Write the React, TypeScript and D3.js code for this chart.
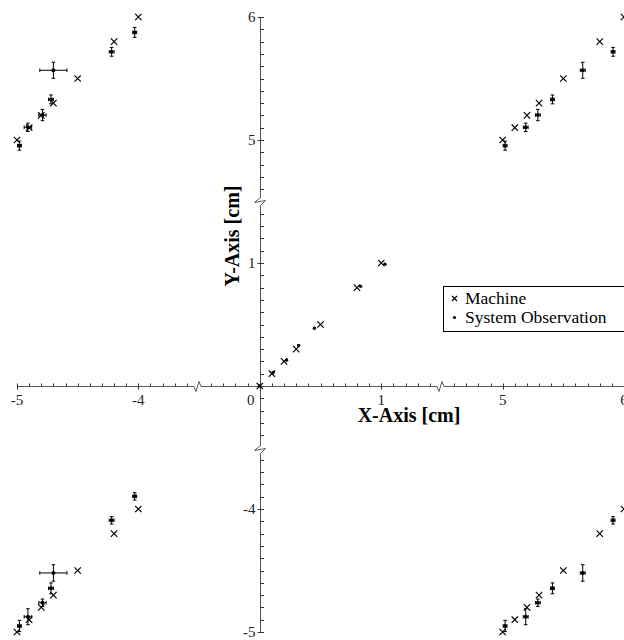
import React from "react";
import * as d3 from "d3";

const W = 624;
const H = 640;

// broken axis segments (domain pieces) and the pixels they occupy
const xPieces = [-5, -3.5, -0.5, 1.5, 4.5, 6];
const xPixels = [17, 199, 199, 442, 442, 624];
const yPieces = [-5, -3.5, -0.5, 1.5, 4.5, 6];
const yPixels = [632, 447.5, 447.5, 201.5, 201.5, 17];

// tick labels
const xTickValues = [-5, -4, 0, 1, 5, 6];
const xTickLabels = ["-5", "-4", "0", "1", "5", "6"];
const yTickValues = [-5, -4, 1, 5, 6];
const yTickLabels = ["-5", "-4", "1", "5", "6"];

// Machine series, per panel
const machineLeftX = [-5, -4.9, -4.8, -4.7, -4.5, -4.2, -4];
const machineMidX = [0, 0.1, 0.2, 0.3, 0.5, 0.8, 1];
const machineRightX = [5, 5.1, 5.2, 5.3, 5.5, 5.8, 6];
const machineTopY = [5, 5.1, 5.2, 5.3, 5.5, 5.8, 6];
const machineMidY = [0, 0.1, 0.2, 0.3, 0.5, 0.8, 1];
const machineBottomY = [-5, -4.9, -4.8, -4.7, -4.5, -4.2, -4];

// System Observation series, per panel (with errors)
const obsLeftX = [-4.98, -4.91, -4.79, -4.72, -4.7, -4.22, -4.03];
const obsLeftErrX = [0.016, 0.031, 0.03, 0.02, 0.112, 0.02, 0.016];
const obsRightX = [5.02, 5.19, 5.29, 5.41, 5.66, 5.91, 6.1];
const obsRightErrX = [0.016, 0.02, 0.02, 0.016, 0.02, 0.016, 0.016];
const obsTopY = [4.954, 5.103, 5.203, 5.33, 5.567, 5.717, 5.875];
const obsTopErrY = [0.037, 0.034, 0.046, 0.036, 0.065, 0.036, 0.04];
const obsBottomY = [-4.951, -4.876, -4.762, -4.645, -4.52, -4.092, -3.897];
const obsBottomErrY = [0.046, 0.065, 0.03, 0.044, 0.067, 0.03, 0.03];
const obsMidX = [0, 0.11, 0.22, 0.32, 0.45, 0.83, 1.03];
const obsMidY = [0, 0.11, 0.21, 0.33, 0.47, 0.81, 0.99];

const FONT = "Liberation Serif, Times New Roman, serif";

const x = d3.scaleLinear().domain(xPieces).range(xPixels);
const y = d3.scaleLinear().domain(yPieces).range(yPixels);

// minor ticks every 0.1 inside each segment, skipping the break ends
function minorTicks(pieces: number[], breaks: number[]) {
  const out: number[] = [];
  for (let s = 0; s < pieces.length; s += 2) {
    const a = Math.round(pieces[s] * 10);
    const b = Math.round(pieces[s + 1] * 10);
    for (let k = a; k <= b; k++) {
      const v = k / 10;
      if (breaks.some((br) => Math.abs(br - v) < 1e-9)) continue;
      out.push(v);
    }
  }
  return out;
}

const xBreaks = [-3.5, -0.5, 1.5, 4.5];
const yBreaks = [-3.5, -0.5, 1.5, 4.5];

const App = () => {
  const x0 = Math.round(x(0)) + 0.5;
  const y0 = Math.round(y(0)) + 0.5;

  const xb1 = x(-3.5);
  const xb2 = x(1.5);
  const xAxisPath =
    `M${x(-5)},${y0}H${xb1 - 5}` +
    `L${xb1 - 3},${y0 + 5}L${xb1},${y0 - 5}L${xb1 + 2},${y0}` +
    `H${xb2 - 5}` +
    `L${xb2 - 3},${y0 + 5}L${xb2},${y0 - 5}L${xb2 + 2},${y0}` +
    `H${x(6)}`;

  const yb1 = y(4.5);
  const yb2 = y(-0.5) + 2;
  const yAxisPath =
    `M${x0},${y(6)}V${yb1 - 4}` +
    `L${x0 - 6},${yb1 + 1}L${x0 + 5},${yb1 - 1}L${x0},${yb1 + 4}` +
    `V${yb2 - 4}` +
    `L${x0 - 6},${yb2 + 1}L${x0 + 5},${yb2 - 1}L${x0},${yb2 + 4}` +
    `V${y(-5)}`;

  const xMinor = minorTicks(xPieces, xBreaks);
  const yMinor = minorTicks(yPieces, yBreaks);

  const machinePanels = [
    [machineLeftX, machineTopY],
    [machineRightX, machineTopY],
    [machineMidX, machineMidY],
    [machineLeftX, machineBottomY],
    [machineRightX, machineBottomY],
  ];
  const machinePts: [number, number][] = [];
  machinePanels.forEach(([xs, ys]) =>
    xs.forEach((v, i) => machinePts.push([v, ys[i]]))
  );

  const obsPanels = [
    [obsLeftX, obsLeftErrX, obsTopY, obsTopErrY],
    [obsRightX, obsRightErrX, obsTopY, obsTopErrY],
    [obsLeftX, obsLeftErrX, obsBottomY, obsBottomErrY],
    [obsRightX, obsRightErrX, obsBottomY, obsBottomErrY],
  ];
  const obsPts: { vx: number; vy: number; ex: number; ey: number }[] = [];
  obsPanels.forEach(([xs, exs, ys, eys]) =>
    xs.forEach((v, i) => obsPts.push({ vx: v, vy: ys[i], ex: exs[i], ey: eys[i] }))
  );
  obsMidX.forEach((v, i) => obsPts.push({ vx: v, vy: obsMidY[i], ex: 0, ey: 0 }));

  const cross = (px: number, py: number, s: number) =>
    `M${px - s},${py - s}L${px + s},${py + s}M${px - s},${py + s}L${px + s},${py - s}`;

  const cap = 1.8;
  const txt = { fontFamily: FONT };

  return (
    <svg
      width={W}
      height={H}
      style={{ position: "absolute", left: 0, top: 0, overflow: "hidden", background: "#fff" }}
    >
      {/* axes */}
      <path d={xAxisPath} fill="none" stroke="#555" strokeWidth={1} />
      <path d={yAxisPath} fill="none" stroke="#555" strokeWidth={1} />

      {xMinor.map((v) => {
        const major = Number.isInteger(v);
        const px = Math.round(x(v)) + 0.5;
        return (
          <line key={"xt" + v} x1={px} x2={px} y1={y0 - 3} y2={major ? y0 + 3 : y0} stroke="#333" />
        );
      })}
      {yMinor.map((v) => {
        const major = Number.isInteger(v);
        const py = Math.round(y(v)) + 0.5;
        return (
          <line key={"yt" + v} x1={major ? x0 - 3 : x0} x2={x0 + 3.5} y1={py} y2={py} stroke="#333" />
        );
      })}

      {xTickValues.map((v, i) => (
        <text
          key={"xl" + v}
          style={txt}
          x={v === 0 ? x0 - 6 : x(v)}
          y={y0 + 18.5}
          textAnchor={v === 0 ? "end" : "middle"}
          fontSize={15}
          fill="#222"
        >
          {xTickLabels[i]}
        </text>
      ))}
      {yTickValues.map((v, i) => (
        <text key={"yl" + v} style={txt} x={x0 - 5} y={y(v) + 5} textAnchor="end" fontSize={15} fill="#222">
          {yTickLabels[i]}
        </text>
      ))}

      <text style={txt} x={409} y={422} textAnchor="middle" fontSize={20} fontWeight="bold" fill="#000">
        X-Axis [cm]
      </text>
      <text
        style={txt}
        transform={`translate(239,236) rotate(-90)`}
        textAnchor="middle"
        fontSize={20}
        fontWeight="bold"
        fill="#000"
      >
        Y-Axis [cm]
      </text>

      {/* System Observation with error bars */}
      {obsPts.map((d, i) => {
        const px = x(d.vx);
        const py = y(d.vy);
        const xl = x(d.vx - d.ex);
        const xr = x(d.vx + d.ex);
        const yt = y(d.vy + d.ey);
        const yb = y(d.vy - d.ey);
        return (
          <g key={"o" + i}>
            {d.ey > 0 && (
              <path
                d={`M${px},${yt}V${yb}M${px - cap},${yt}H${px + cap}M${px - cap},${yb}H${px + cap}`}
                stroke="#000"
                strokeWidth={1}
                fill="none"
              />
            )}
            {d.ex > 0 && (
              <path
                d={`M${xl},${py}H${xr}M${xl},${py - cap}V${py + cap}M${xr},${py - cap}V${py + cap}`}
                stroke="#000"
                strokeWidth={1}
                fill="none"
              />
            )}
            <circle cx={px} cy={py} r={d.ex > 0 ? 2 : 1.7} fill="#000" />
          </g>
        );
      })}

      {/* Machine */}
      {machinePts.map(([vx, vy], i) => (
        <path key={"m" + i} d={cross(x(vx), y(vy), 3.2)} stroke="#000" strokeWidth={1.2} fill="none" />
      ))}

      {/* legend */}
      <rect x={443.5} y={286.5} width={200} height={45} fill="#fff" stroke="#000" strokeWidth={1} />
      <path d={cross(454.5, 298.5, 2.5)} stroke="#000" strokeWidth={1.2} fill="none" />
      <circle cx={454.5} cy={317.5} r={1.6} fill="#000" />
      <text style={txt} x={465} y={303.5} fontSize={17.5} fill="#000">
        Machine
      </text>
      <text style={txt} x={465} y={323} fontSize={17.5} fill="#000">
        System Observation
      </text>
    </svg>
  );
};

export default App;
